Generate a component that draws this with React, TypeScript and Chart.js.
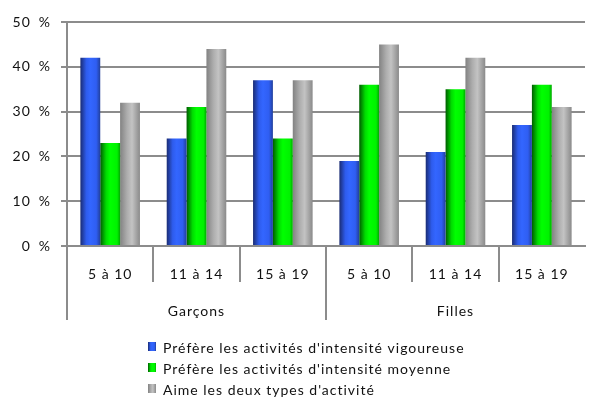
import { useEffect, useRef } from 'react';
import { Chart, registerables } from 'chart.js';

Chart.register(...registerables);

const ageGroups = ['5 à 10', '11 à 14', '15 à 19', '5 à 10', '11 à 14', '15 à 19'];
const sexGroups = ['Garçons', 'Filles'];
const seriesNames = [
  "Préfère les activités d'intensité vigoureuse",
  "Préfère les activités d'intensité moyenne",
  "Aime les deux types d'activité",
];
const vigorous = [42, 24, 37, 19, 21, 27];
const moderate = [23, 31, 24, 36, 35, 36];
const both = [32, 44, 37, 45, 42, 31];
const yMin = 0;
const yMax = 50;
const yStep = 10;

const gradientStops: [number, string][][] = [
  [[0, '#1a2c74'], [0.3, '#2e5ced'], [0.5, '#3366ff'], [0.8, '#2f5ef2'], [1, '#213f9c']],
  [[0, '#005c00'], [0.3, '#00dc00'], [0.5, '#00ff00'], [0.85, '#00f200'], [1, '#00a800']],
  [[0, '#828282'], [0.35, '#adadad'], [0.6, '#c3c3c3'], [1, '#8a8a8a']],
];

const FONT = 'Lato';
const TEXT = '#111111';
const LINE = '#8c8c8c';
const SPACING = '1px';

function makeGradient(ctx: CanvasRenderingContext2D, x0: number, x1: number, idx: number) {
  const g = ctx.createLinearGradient(x0, 0, x1, 0);
  for (const [o, c] of gradientStops[idx]) g.addColorStop(o, c);
  return g;
}

const spacingPlugin = {
  id: 'letterSpacing',
  beforeLayout(chart: any) {
    (chart.ctx as any).letterSpacing = SPACING;
  },
  beforeDraw(chart: any) {
    (chart.ctx as any).letterSpacing = SPACING;
  },
};

const gradientPlugin = {
  id: 'barGradient',
  beforeDatasetsDraw(chart: any) {
    const ctx = chart.ctx;
    chart.data.datasets.forEach((_: any, i: number) => {
      const meta = chart.getDatasetMeta(i);
      meta.data.forEach((el: any) => {
        const { x, width } = el.getProps(['x', 'width'], true);
        const g = makeGradient(ctx, x - width / 2, x + width / 2, i);
        el.options = { ...el.options, backgroundColor: g };
      });
    });
  },
};

const separatorPlugin = {
  id: 'separators',
  afterDatasetsDraw(chart: any) {
    const ctx = chart.ctx;
    const xs = chart.scales.x;
    const x2 = chart.scales.x2;
    const n = ageGroups.length;
    const per = n / sexGroups.length;
    const w = (xs.right - xs.left) / n;
    ctx.save();
    ctx.strokeStyle = LINE;
    ctx.lineWidth = 2;
    ctx.beginPath();
    const left = Math.round(xs.left);
    ctx.moveTo(left, xs.top);
    ctx.lineTo(left, x2.bottom);
    for (let i = 1; i < n; i++) {
      const x = Math.round(xs.left + i * w);
      const y2 = i % per === 0 ? x2.bottom : xs.bottom;
      ctx.moveTo(x, xs.top);
      ctx.lineTo(x, y2);
    }
    ctx.stroke();
    ctx.restore();
  },
};

const legendPlugin = {
  id: 'vertLegend',
  afterDraw(chart: any) {
    const ctx = chart.ctx;
    const x2 = chart.scales.x2;
    const top = x2.bottom + 27;
    const boxX = 148;
    const textX = 163;
    ctx.save();
    (ctx as any).letterSpacing = SPACING;
    chart.data.datasets.forEach((ds: any, i: number) => {
      const cy = top + i * 21;
      ctx.fillStyle = makeGradient(ctx, boxX, boxX + 8, i);
      ctx.fillRect(boxX, cy - 5, 8, 9);
      ctx.fillStyle = TEXT;
      ctx.font = `14px ${FONT}`;
      ctx.textBaseline = 'middle';
      ctx.textAlign = 'left';
      ctx.fillText(ds.label, textX, cy + 1);
    });
    ctx.restore();
  },
};

export default function App() {
  const ref = useRef<HTMLCanvasElement>(null);

  useEffect(() => {
    if (!ref.current) return;
    const values = [vigorous, moderate, both];
    const chart = new Chart(ref.current, {
      type: 'bar',
      data: {
        labels: ageGroups,
        datasets: seriesNames.map((name, i) => ({
          label: name,
          data: values[i],
          backgroundColor: gradientStops[i][2][1],
          borderWidth: 0,
          categoryPercentage: 0.69,
          barPercentage: 1,
        })),
      },
      options: {
        animation: false,
        responsive: true,
        maintainAspectRatio: false,
        layout: { padding: { top: 22, right: 11, bottom: 82, left: 0 } },
        plugins: {
          legend: { display: false },
          tooltip: { enabled: false },
        },
        scales: {
          x: {
            type: 'category',
            position: 'bottom',
            weight: 0,
            grid: { display: false, drawTicks: false },
            border: { display: true, color: LINE, width: 2 },
            ticks: {
              color: TEXT,
              font: { family: FONT, size: 14 },
              padding: 20,
              maxRotation: 0,
              autoSkip: false,
            },
            afterFit: (s: any) => {
              s.height = 36;
            },
          },
          x2: {
            type: 'category',
            labels: sexGroups,
            position: 'bottom',
            weight: 1,
            grid: { display: false, drawTicks: false },
            border: { display: false },
            ticks: {
              color: TEXT,
              font: { family: FONT, size: 14 },
              padding: 21,
              maxRotation: 0,
              autoSkip: false,
            },
            afterFit: (s: any) => {
              s.height = 38;
            },
          },
          y: {
            min: yMin,
            max: yMax,
            ticks: {
              stepSize: yStep,
              color: TEXT,
              font: { family: FONT, size: 14 },
              padding: 10,
              callback: (v: any) => `${v}\u2002%`,
            },
            grid: { color: LINE, lineWidth: 2, tickLength: 6 },
            border: { display: true, color: LINE, width: 2 },
            afterFit: (s: any) => {
              s.width = 67;
            },
          },
        },
      } as any,
      plugins: [spacingPlugin, gradientPlugin, separatorPlugin, legendPlugin],
    });
    return () => chart.destroy();
  }, []);

  return (
    <div style={{ position: 'absolute', left: 0, top: 0, width: 596, height: 402, background: '#fff' }}>
      <canvas ref={ref} />
    </div>
  );
}
